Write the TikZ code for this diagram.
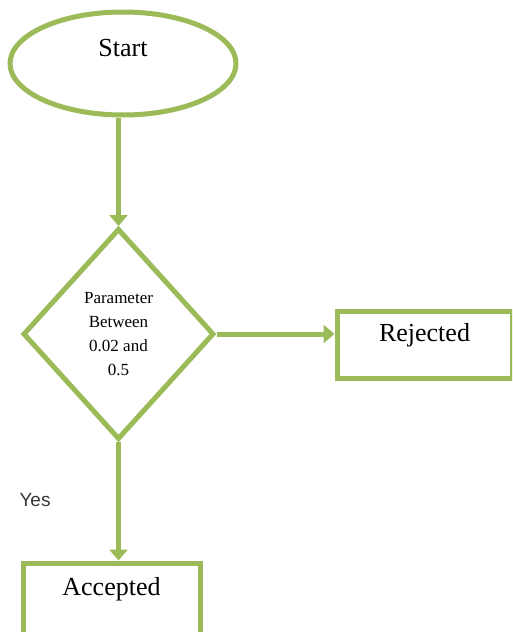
\documentclass[tikz,border=0pt]{standalone}
\usepackage{fontspec}
\setmainfont{Liberation Serif}
\newfontfamily\yesfont{Liberation Sans}
\usetikzlibrary{shapes.geometric,arrows.meta}
\definecolor{olive}{RGB}{155,187,89}
\definecolor{yesgray}{RGB}{55,55,55}
\begin{document}
\begin{tikzpicture}[x=1pt,y=-1pt,
  shapeline/.style={draw=olive,line width=5pt,fill=white},
  conn/.style={draw=olive,line width=5pt,-{Triangle[length=11pt,width=18pt]}},
  bigtext/.style={font=\fontsize{26}{30}\selectfont},
  boxnode/.style={shapeline,rectangle,inner xsep=0pt,inner ysep=0pt,bigtext}]
\useasboundingbox (0,0) rectangle (512,632);
\clip (0,0) rectangle (512,632);
\node[shapeline,ellipse,minimum width=226pt,minimum height=103pt,inner sep=0pt,
      bigtext,text height=17pt,text depth=32pt] (start) at (123,63.5) {Start};
\node[shapeline,diamond,minimum width=191pt,minimum height=211pt,inner sep=0pt,
      align=center,font=\fontsize{17}{24}\selectfont] (dec) at (118.5,334)
      {Parameter\\Between\\0.02 and\\0.5};
\node[boxnode,minimum width=175pt,minimum height=67pt,text height=30pt,text depth=37pt]
      (rej) at (424.5,344.5) {Rejected};
\node[boxnode,minimum width=177pt,minimum height=75pt,text height=32pt,text depth=43pt]
      (acc) at (111.5,600.5) {Accepted};
\node[font=\yesfont\fontsize{19}{22}\selectfont,text=yesgray] (yes) at (35,500) {Yes};
\draw[conn] (start.south -| dec.north) -- (dec.north);
\draw[conn] (dec.east) -- (dec.east -| rej.west);
\draw[conn] (dec.south) -- (dec.south |- acc.north);
\end{tikzpicture}
\end{document}
